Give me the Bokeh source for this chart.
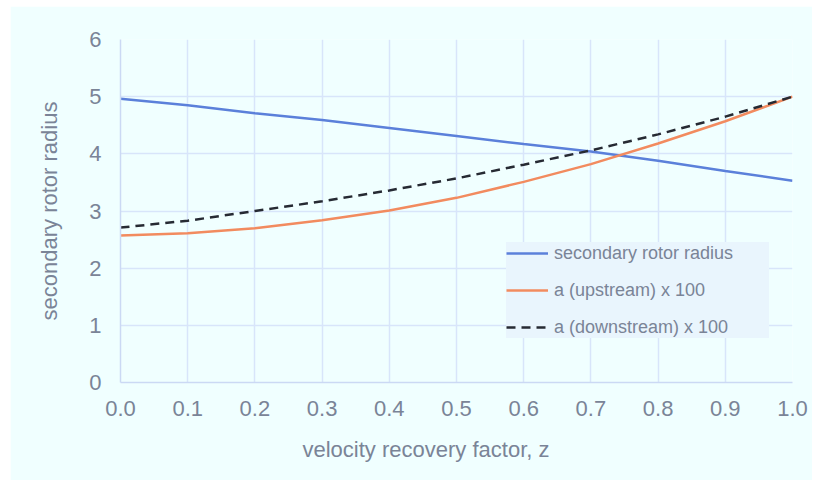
from bokeh.plotting import figure
from bokeh.models import Range1d, FixedTicker, PrintfTickFormatter, Legend, LegendItem, Title, Spacer
from bokeh.layouts import column, row
from bokeh.embed import file_html
from bokeh.resources import INLINE

# data
z = [0.0, 0.1, 0.2, 0.3, 0.4, 0.5, 0.6, 0.7, 0.8, 0.9, 1.0]
rotor_radius = [4.965, 4.85, 4.71, 4.59, 4.45, 4.31, 4.17, 4.04, 3.88, 3.70, 3.53]
a_upstream = [2.57, 2.61, 2.70, 2.84, 3.01, 3.23, 3.51, 3.82, 4.18, 4.57, 5.00]
a_downstream = [2.71, 2.83, 3.00, 3.17, 3.36, 3.57, 3.81, 4.06, 4.34, 4.65, 5.00]
x_ticks = [0.0, 0.1, 0.2, 0.3, 0.4, 0.5, 0.6, 0.7, 0.8, 0.9, 1.0]
y_ticks = [0, 1, 2, 3, 4, 5, 6]

BG = "#F0FFFF"
TXT = "#7A8497"
GRID = "#D8E5FA"
FONT = "Liberation Sans"

p = figure(width=802, height=474, output_backend="svg", toolbar_location=None,
           x_range=Range1d(0, 1), y_range=Range1d(0, 6),
           min_border_left=110, min_border_right=20, min_border_top=33, min_border_bottom=98)
p.background_fill_color = BG
p.border_fill_color = BG
p.outline_line_color = None

p.xgrid.ticker = FixedTicker(ticks=x_ticks)
p.ygrid.ticker = FixedTicker(ticks=y_ticks)
p.grid.grid_line_color = GRID
p.grid.grid_line_width = 1.5

p.xaxis.ticker = FixedTicker(ticks=x_ticks)
p.xaxis.formatter = PrintfTickFormatter(format="%.1f")
p.yaxis.ticker = FixedTicker(ticks=y_ticks)
for ax in (p.xaxis, p.yaxis):
    ax.axis_line_color = "#CBD9F4"
    ax.axis_line_width = 1.5
    ax.major_tick_line_color = None
    ax.minor_tick_line_color = None
    ax.major_tick_out = 0
    ax.major_tick_in = 0
    ax.major_label_text_font = FONT
    ax.major_label_text_font_size = "22px"
    ax.major_label_text_color = TXT
    ax.axis_label_text_font = FONT
    ax.axis_label_text_font_size = "22px"
    ax.axis_label_text_color = TXT
    ax.axis_label_text_font_style = "normal"
p.xaxis.major_label_standoff = 18
p.yaxis.major_label_standoff = 19
p.yaxis.axis_label = "secondary rotor radius"
p.yaxis.axis_label_standoff = 24

xt = Title(text="velocity recovery factor, z", align="left", offset=182,
           text_font=FONT, text_font_size="22px", text_color=TXT,
           text_font_style="normal", standoff=32)
p.add_layout(xt, "below")

r1 = p.line(z, rotor_radius, line_color="#5B80DA", line_width=2.5)
r2 = p.line(z, a_upstream, line_color="#F28B5F", line_width=2.5)
r3 = p.line(z, a_downstream, line_color="#262A33", line_width=2.5, line_dash="9 6")

legend = Legend(items=[
    LegendItem(label="secondary rotor radius", renderers=[r1]),
    LegendItem(label="a (upstream) x 100", renderers=[r2]),
    LegendItem(label="a (downstream) x 100", renderers=[r3]),
], location=(386, 44))
legend.background_fill_color = "#E9F5FD"
legend.background_fill_alpha = 1.0
legend.border_line_color = None
legend.label_text_font = FONT
legend.label_text_font_size = "18px"
legend.label_text_color = TXT
legend.glyph_width = 42
legend.glyph_height = 22
legend.label_height = 22
legend.label_width = 215
legend.label_standoff = 6
legend.spacing = 15
legend.padding = 9
legend.margin = 0
p.add_layout(legend)

layout = column(Spacer(height=6), row(Spacer(width=10), p))
open("out.html", "w").write(file_html(layout, INLINE))
